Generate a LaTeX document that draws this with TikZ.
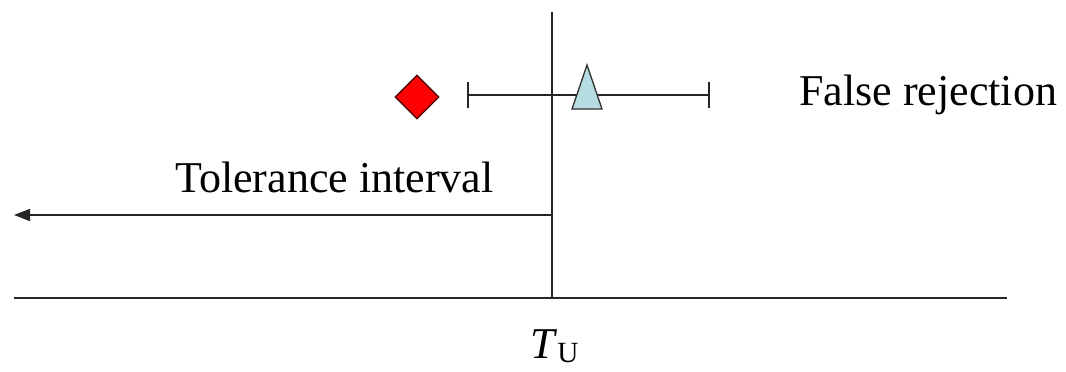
\documentclass[tikz,border=0pt]{standalone}
\usepackage{fontspec}
\setmainfont{Liberation Serif}
\usetikzlibrary{arrows.meta}
\definecolor{tri}{HTML}{B5DCE0}
\tikzset{
  ln/.style={line width=1.2pt, black!85},
  lbl/.style={inner sep=0pt, font=\fontsize{33}{40}\selectfont},
}
\begin{document}
\begin{tikzpicture}[x=0.75pt,y=-0.75pt]
\useasboundingbox (0,0) rectangle (1066,371);
% axes
\coordinate (vtop) at (552,12);
\coordinate (vbot) at (552,298);
\coordinate (hl) at (14,298);
\coordinate (hr) at (1007,298);
\coordinate (astart) at (552,215);
\coordinate (aend) at (14,215);
\draw[ln] (vtop) -- (vbot);
\draw[ln] (hl) -- (hr);
\draw[ln,-{Triangle[length=12pt,width=9pt]}] (astart) -- (aend);
% error bar
\coordinate (el) at (468,95);
\coordinate (er) at (709,95);
\draw[ln] (el) -- (er);
\draw[ln] (468,82) -- (468,108);
\draw[ln] (709,82) -- (709,108);
% triangle
\draw[line width=1pt, black!80, fill=tri] (587,65) -- (602,109) -- (572,109) -- cycle;
% diamond
\node[draw=black!70!red, line width=1pt, fill=red, minimum size=23pt, inner sep=0pt, rotate=45] (dia) at (417,97) {};
% labels
\node[lbl, anchor=base west] (fr) at (799,105) {False rejection};
\node[lbl, anchor=base west] (ti) at (175,192) {Tolerance interval};
\node[lbl, anchor=base west] (tu) at (530,358) {\textit{T}\raisebox{-0.2ex}{\fontsize{22}{26}\selectfont U}};
\end{tikzpicture}
\end{document}
